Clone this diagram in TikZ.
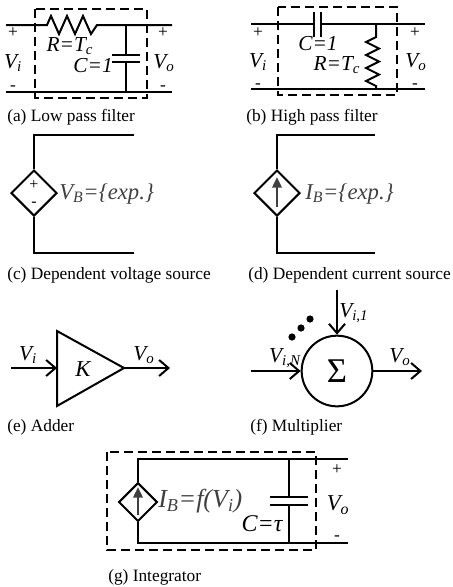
\documentclass[tikz,border=0pt]{standalone}
\usepackage{fontspec}
\setmainfont{Liberation Serif}
\usetikzlibrary{arrows.meta,shapes.geometric,positioning}
\definecolor{exprgray}{RGB}{64,64,64}

\begin{document}
\begin{tikzpicture}[x=0.75pt,y=0.75pt,yscale=-1,
  wire/.style={line width=1.5pt},
  frame/.style={line width=0.8pt,dash pattern=on 6.5pt off 4pt},
  lbl/.style={inner sep=0pt,font=\fontsize{16}{17}\selectfont\itshape},
  sign/.style={inner sep=0pt,font=\fontsize{13}{14}\selectfont},
  caption/.style={anchor=west,inner sep=0pt,font=\fontsize{13}{15}\selectfont},
  expr/.style={anchor=west,inner sep=0pt,text=exprgray,font=\fontsize{17}{19}\selectfont\itshape},
  srcbox/.style={diamond,draw,line width=1.5pt,inner sep=0pt,minimum size=34.5pt},
  flowarrow/.style={wire,-{Straight Barb[length=7pt,width=12pt]}},
  currarrow/.style={line width=1.8pt,draw=exprgray,-{Triangle[length=8pt,width=7pt,fill=exprgray]}}]
\useasboundingbox (0,0) rectangle (453,587);

% (a) Low pass filter
\draw[frame] (35,9) rectangle (147,98);
\coordinate (aTL) at (6,25);
\coordinate (aR1) at (47,25);
\coordinate (aR2) at (97,25);
\coordinate (aTR) at (172,25);
\coordinate (aBL) at (6,92);
\coordinate (aBR) at (172,92);
\coordinate (aCT) at (126,25);
\coordinate (aCB) at (126,92);
\draw[wire] (aTL) -- (aR1) -- ++(4,-9) -- ++(8,18) -- ++(8,-18) -- ++(8,18) -- ++(8,-18) -- ++(8,18) -- (aR2) -- (aTR);
\draw[wire] (aBL) -- (aBR);
%Capacitor
\draw[wire] (aCT) -- (126,55) (126,62) -- (aCB);
\draw[wire] (112,55) -- (140,55) (112,62) -- (140,62);
% Text Node
\node[sign] (aPi) at (13,33) {+};
\node[lbl] (aVi) at (13,63) {V\textsubscript{i}};
\node[sign] (aMi) at (13,88) {-};
\node[sign] (aPo) at (163,33) {+};
\node[lbl] (aVo) at (164,63) {V\textsubscript{o}};
\node[sign] (aMo) at (163,88) {-};
\node[lbl] (aR) at (70,46) {R=T\textsubscript{c}};
\node[lbl,anchor=east] (aC) at (113,66) {C=1};
\node[caption] (capA) at (7,117) {(a) Low pass filter};

% (b) High pass filter
\draw[frame] (278,7) rectangle (397,95);
\coordinate (bTL) at (251,24);
\coordinate (bTR) at (425,24);
\coordinate (bBL) at (251,89);
\coordinate (bBR) at (425,89);
\coordinate (bRT) at (376,24);
\coordinate (bRB) at (376,89);
\draw[wire] (bTL) -- (314,24) (321,24) -- (bTR);
\draw[wire] (314,12) -- (314,37) (321,12) -- (321,37);
\draw[wire] (bBL) -- (bBR);
%Resistor
\draw[wire] (bRT) -- (376,37) -- (366,42) -- (379,48.5) -- (366,55) -- (379,61.5) -- (366,68) -- (379,74.5) -- (366,81) -- (376,86) -- (bRB);
% Text Node
\node[sign] (bPi) at (258,33) {+};
\node[lbl] (bVi) at (258,62) {V\textsubscript{i}};
\node[sign] (bMi) at (258,86) {-};
\node[sign] (bPo) at (415,33) {+};
\node[lbl] (bVo) at (416,62) {V\textsubscript{o}};
\node[sign] (bMo) at (415,86) {-};
\node[lbl] (bC) at (318,44) {C=1};
\node[lbl] (bR) at (337,65) {R=T\textsubscript{c}};
\node[caption] (capB) at (246,117) {(b) High pass filter};

% (c) Dependent voltage source
\node[srcbox] (vsrc) at (34,193) {};
\coordinate (cTL) at (34,135);
\coordinate (cTR) at (134,135);
\coordinate (cBL) at (34,253);
\coordinate (cBR) at (134,253);
\draw[wire] (vsrc.north) -- (cTL) -- (cTR);
\draw[wire] (vsrc.south) -- (cBL) -- (cBR);
\node[sign,font=\fontsize{12}{13}\selectfont] (cP) at (34,185) {+};
\node[sign,font=\fontsize{12}{13}\selectfont] (cM) at (34,204) {-};
\node[expr] (cExp) at (59,194) {V\textsubscript{B}=\{exp.\}};
\node[caption] (capC) at (7,275) {(c) Dependent voltage source};

% (d) Dependent current source
\node[srcbox] (isrc) at (277,193) {};
\coordinate (dTL) at (277,135);
\coordinate (dTR) at (375,135);
\coordinate (dBL) at (277,253);
\coordinate (dBR) at (375,253);
\draw[wire] (isrc.north) -- (dTL) -- (dTR);
\draw[wire] (isrc.south) -- (dBL) -- (dBR);
\draw[currarrow] (277,207) -- (277,177);
\node[expr] (dExp) at (305,194) {I\textsubscript{B}=\{exp.\}};
\node[caption] (capD) at (248,275) {(d) Dependent current source};

% (e) Adder
\coordinate (gTop) at (57,331);
\coordinate (gTip) at (124,368);
\coordinate (gBot) at (57,406);
\coordinate (gIn) at (57,368);
\coordinate (eIn) at (11,368);
\coordinate (eOut) at (170,368);
\draw[wire,line join=miter] (gTop) -- (gTip) -- (gBot) -- cycle;
\draw[flowarrow] (eIn) -- (gIn);
\draw[flowarrow] (gTip) -- (eOut);
\node[lbl] (eVi) at (28,355) {V\textsubscript{i}};
\node[lbl] (eVo) at (144,355) {V\textsubscript{o}};
\node[lbl,font=\fontsize{17}{19}\selectfont\itshape] (eK) at (83,369) {K};
\node[caption] (capE) at (7,427) {(e) Adder};

% (f) Multiplier
\node[circle,draw,line width=1.5pt,minimum size=53pt,inner sep=0pt,font=\fontsize{26}{28}\selectfont] (sum) at (337,371) {Σ};
\coordinate (fTop) at (337,290);
\coordinate (fIn) at (251,371);
\coordinate (fOut) at (422,371);
\draw[flowarrow] (fTop) -- (sum.north);
\draw[flowarrow] (fIn) -- (sum.west);
\draw[flowarrow] (sum.east) -- (fOut);
\foreach \dx/\dy in {292/337,301/328,310/319}
  \fill (\dx,\dy) circle[radius=2.7pt];
\node[lbl,anchor=west] (fV1) at (339,313) {V\textsubscript{i,1}};
\node[lbl,anchor=east] (fVN) at (301,358) {V\textsubscript{i,N}};
\node[lbl] (fVo) at (400,357) {V\textsubscript{o}};
\node[caption] (capF) at (250,427) {(f) Multiplier};

% (g) Integrator
\draw[frame] (107,452) rectangle (316,550);
\node[srcbox,minimum size=29pt] (gsrc) at (138,502) {};
\coordinate (gTL) at (138,459);
\coordinate (gTR) at (348,459);
\coordinate (gBL) at (138,543);
\coordinate (gBR) at (348,543);
\draw[wire] (gsrc.north) -- (gTL) -- (gTR);
\draw[wire] (gsrc.south) -- (gBL) -- (gBR);
\draw[currarrow] (138,515) -- (138,487);
%Capacitor
\draw[wire] (289,459) -- (289,497) (289,505) -- (289,543);
\draw[wire] (270,497) -- (308,497) (270,505) -- (308,505);
% Text Node
\node[sign] (gPo) at (337,470) {+};
\node[lbl,font=\fontsize{17}{19}\selectfont\itshape] (gVo) at (338,505) {V\textsubscript{o}};
\node[sign] (gMo) at (337,538) {-};
\node[expr,font=\fontsize{19.5}{21}\selectfont\itshape] (gExp) at (158,501) {I\textsubscript{B}=f(V\textsubscript{i})};
\node[lbl,font=\fontsize{18}{20}\selectfont\itshape] (gC) at (262,524) {C=τ};
\node[caption] (capG) at (108,577) {(g) Integrator};

\end{tikzpicture}
\end{document}
